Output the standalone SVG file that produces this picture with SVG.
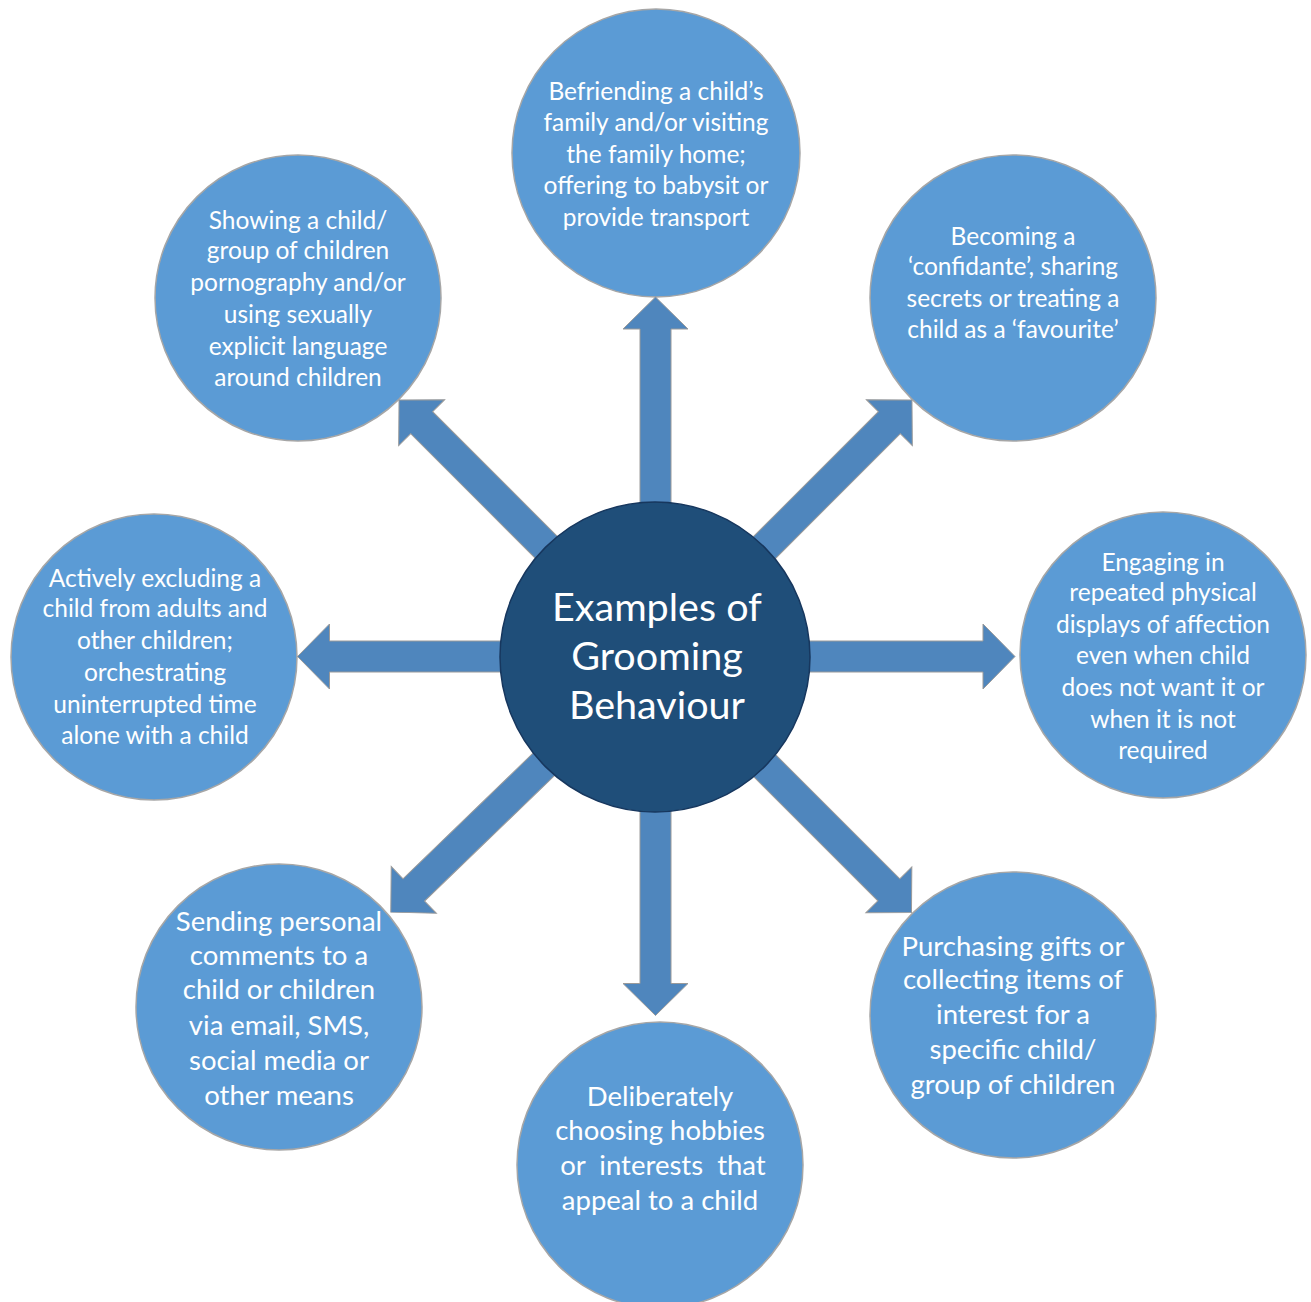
<svg xmlns="http://www.w3.org/2000/svg" width="1311" height="1302" viewBox="0 0 1311 1302">
<style>
.outer{fill:#5B9BD5;stroke:#A6A6A6;stroke-width:1.5}
.center{fill:#1F4E79;stroke:#17375E;stroke-width:1.5}
.arrow{fill:#4F86BD;stroke:#9A9A9A;stroke-width:1}
text{font-family:Lato,"Open Sans","Liberation Sans",sans-serif;fill:#FFFFFF;text-anchor:middle}
.t{font-size:24.5px}
.tb{font-size:27.5px}
.tc{font-size:39.5px}
</style>
<rect width="1311" height="1302" fill="#FFFFFF"/>
<g id="node-top"><circle class="outer" cx="656" cy="153" r="144"/>
<text class="t"><tspan x="656" y="100">Befriending a child’s</tspan><tspan x="656" y="131">family and/or visiting</tspan><tspan x="656" y="163">the family home;</tspan><tspan x="656" y="194">offering to babysit or</tspan><tspan x="656" y="226">provide transport</tspan></text></g>
<g id="node-top-right"><circle class="outer" cx="1013" cy="298" r="143"/>
<text class="t"><tspan x="1013" y="245">Becoming a</tspan><tspan x="1013" y="275">‘confidante’, sharing</tspan><tspan x="1013" y="307">secrets or treating a</tspan><tspan x="1013" y="338">child as a ‘favourite’</tspan></text></g>
<g id="node-right"><circle class="outer" cx="1163" cy="655" r="143"/>
<text class="t"><tspan x="1163" y="571">Engaging in</tspan><tspan x="1163" y="601">repeated physical</tspan><tspan x="1163" y="633">displays of affection</tspan><tspan x="1163" y="664">even when child</tspan><tspan x="1163" y="696">does not want it or</tspan><tspan x="1163" y="728">when it is not</tspan><tspan x="1163" y="759">required</tspan></text></g>
<g id="node-bottom-right"><circle class="outer" cx="1013" cy="1015" r="143"/>
<text class="tb"><tspan x="1013" y="956">Purchasing gifts or</tspan><tspan x="1013" y="989">collecting items of</tspan><tspan x="1013" y="1024">interest for a</tspan><tspan x="1013" y="1059">specific child/</tspan><tspan x="1013" y="1094">group of children</tspan></text></g>
<g id="node-bottom"><circle class="outer" cx="660" cy="1165" r="143"/>
<text class="tb" xml:space="preserve"><tspan x="660" y="1106">Deliberately</tspan><tspan x="660" y="1140">choosing hobbies</tspan><tspan x="663" y="1175">or  interests  that</tspan><tspan x="660" y="1210">appeal to a child</tspan></text></g>
<g id="node-bottom-left"><circle class="outer" cx="279" cy="1007" r="143"/>
<text class="tb"><tspan x="279" y="931">Sending personal</tspan><tspan x="279" y="965">comments to a</tspan><tspan x="279" y="999">child or children</tspan><tspan x="279" y="1035">via email, SMS,</tspan><tspan x="279" y="1070">social media or</tspan><tspan x="279" y="1105">other means</tspan></text></g>
<g id="node-left"><circle class="outer" cx="154" cy="657" r="143"/>
<text class="t"><tspan x="155" y="587">Actively excluding a</tspan><tspan x="155" y="617">child from adults and</tspan><tspan x="155" y="649">other children;</tspan><tspan x="155" y="681">orchestrating</tspan><tspan x="155" y="713">uninterrupted time</tspan><tspan x="155" y="744">alone with a child</tspan></text></g>
<g id="node-top-left"><circle class="outer" cx="298" cy="298" r="143"/>
<text class="t"><tspan x="298" y="229">Showing a child/</tspan><tspan x="298" y="259">group of children</tspan><tspan x="298" y="291">pornography and/or</tspan><tspan x="298" y="323">using sexually</tspan><tspan x="298" y="355">explicit language</tspan><tspan x="298" y="386">around children</tspan></text></g>
<g id="connectors">
<polygon class="arrow" transform="translate(655.5,656.5) rotate(-90)" points="0,-15.5 327.5,-15.5 327.5,-32.5 359.5,0 327.5,32.5 327.5,15.5 0,15.5"/>
<polygon class="arrow" transform="translate(655.5,656.5) rotate(0)" points="0,-15.5 327.5,-15.5 327.5,-32.5 359.5,0 327.5,32.5 327.5,15.5 0,15.5"/>
<polygon class="arrow" transform="translate(655.5,656.5) rotate(90)" points="0,-15.5 327,-15.5 327,-32.5 359,0 327,32.5 327,15.5 0,15.5"/>
<polygon class="arrow" transform="translate(655.5,656.5) rotate(180)" points="0,-15.5 326,-15.5 326,-32.5 358,0 326,32.5 326,15.5 0,15.5"/>
<polygon class="arrow" transform="translate(655.5,656.5) rotate(-45)" points="0,-15.5 330.7,-15.5 330.7,-32.5 362.7,0 330.7,32.5 330.7,15.5 0,15.5"/>
<polygon class="arrow" transform="translate(655.5,656.5) rotate(-135)" points="0,-15.5 330.7,-15.5 330.7,-32.5 362.7,0 330.7,32.5 330.7,15.5 0,15.5"/>
<polygon class="arrow" transform="translate(655.5,656.5) rotate(136)" points="0,-15.5 336,-15.5 336,-32.5 368,0 336,32.5 336,15.5 0,15.5"/>
<polygon class="arrow" transform="translate(655.5,656.5) rotate(45)" points="0,-15.5 330,-15.5 330,-32.5 362,0 330,32.5 330,15.5 0,15.5"/>
</g>
<g id="node-center"><circle class="center" cx="655" cy="657" r="155"/>
<text class="tc"><tspan x="657" y="621">Examples of</tspan><tspan x="657" y="670">Grooming</tspan><tspan x="657" y="719">Behaviour</tspan></text></g>
</svg>
